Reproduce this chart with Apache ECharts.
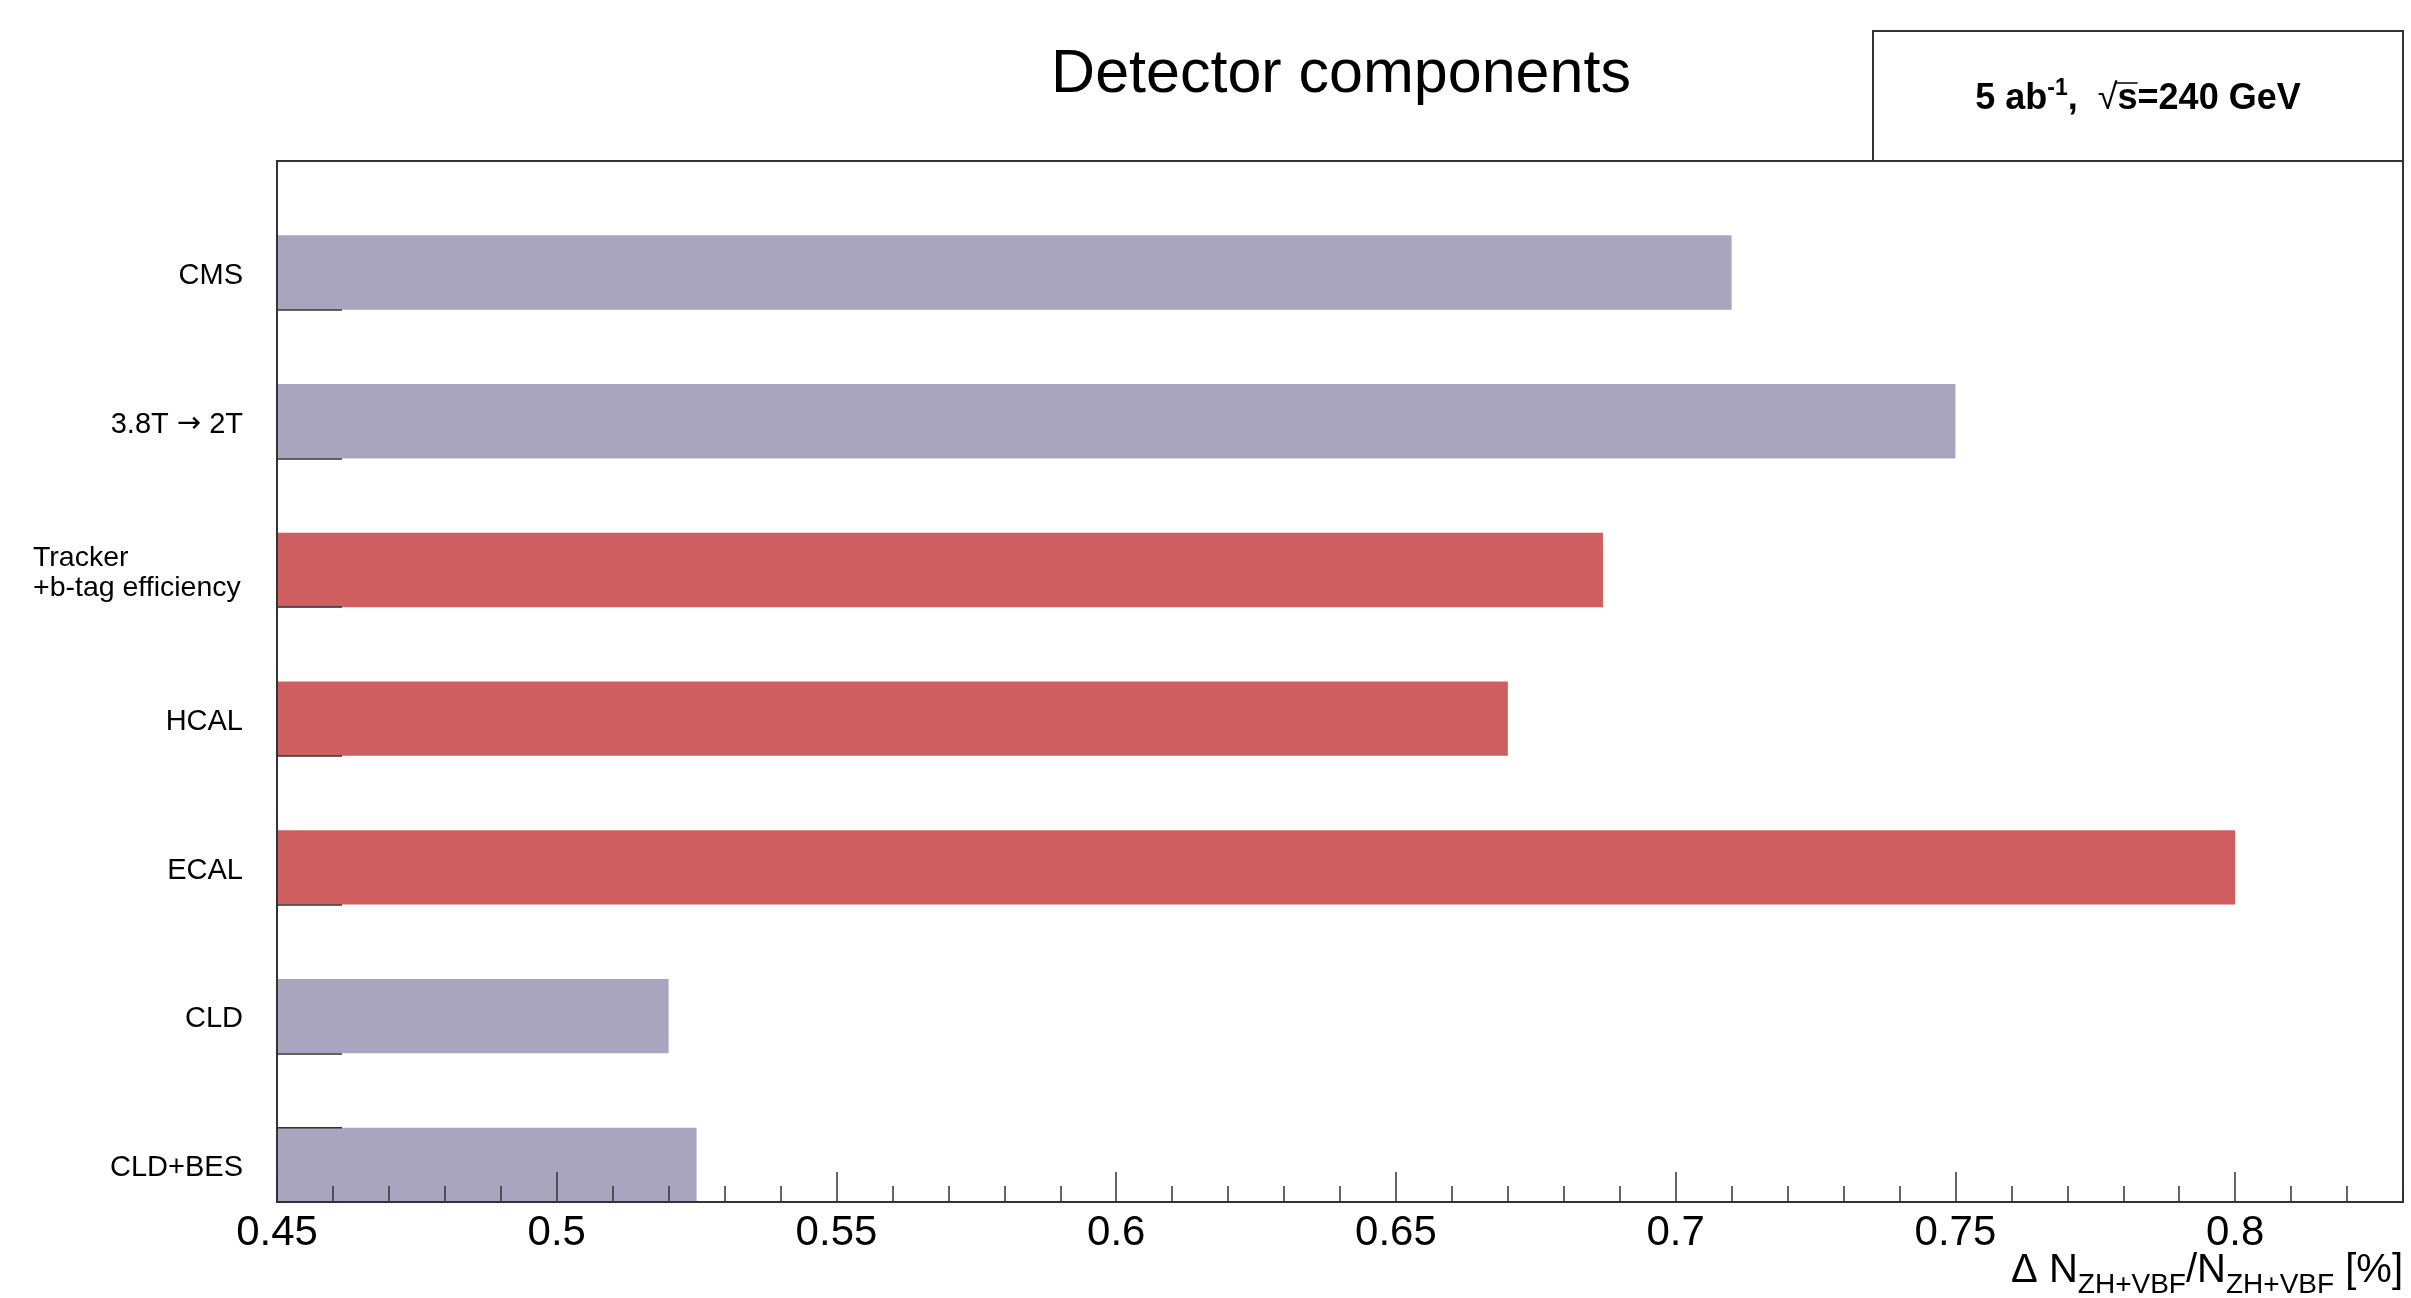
<!DOCTYPE html>
<html>
<head>
<meta charset="utf-8">
<script src="https://cdn.jsdelivr.net/npm/echarts@6/dist/echarts.min.js"></script>
<style>
  html, body { margin: 0; padding: 0; background: #ffffff; }
  #chart { width: 2411px; height: 1298px; }
</style>
</head>
<body>
<div id="chart"></div>
<script>
// Relative uncertainty on the ZH+VBF yield for each detector configuration
const categories = ['CMS', '3.8T \u2192 2T', 'Tracker\n+b-tag efficiency', 'HCAL', 'ECAL', 'CLD', 'CLD+BES'];
const resolution = [0.710, 0.750, 0.687, 0.670, 0.800, 0.520, 0.525];
// Configurations where a single detector component is varied
const componentVariations = ['Tracker\n+b-tag efficiency', 'HCAL', 'ECAL'];
const xRange = [0.45, 0.83];
const xMajorStep = 0.05;
const xMinorStep = 0.01;

const FONT = '"Liberation Sans", Arial, Helvetica, sans-serif';
const GREY = '#A9A5BF';
const RED = '#CF5E60';
const LINE = '#333333';

const chart = echarts.init(document.getElementById('chart'), null, { renderer: 'canvas' });

// Text measurement helper for the composed labels (super/subscripts)
const measureCtx = document.createElement('canvas').getContext('2d');
function textWidth(str, size, weight) {
  measureCtx.font = (weight || 'normal') + ' ' + size + 'px ' + FONT;
  return measureCtx.measureText(str).width;
}
// zrender draws with a 'middle' baseline; convert an alphabetic baseline to it
function midFromBaseline(baseline, size) { return baseline - 0.3465 * size; }

// Lay out a run of text pieces left to right starting at x
function textRun(pieces, x0, baseline) {
  const out = [];
  let x = x0;
  pieces.forEach(p => {
    const w = textWidth(p.text, p.size, p.weight);
    out.push({
      type: 'text', z: 100,
      style: {
        text: p.text, x: x, y: midFromBaseline(baseline + (p.dy || 0), p.size),
        font: (p.weight || 'normal') + ' ' + p.size + 'px ' + FONT,
        fill: '#000', textAlign: 'left', textVerticalAlign: 'middle'
      }
    });
    p._x = x; p._w = w;
    x += w;
  });
  return { items: out, width: x - x0 };
}
function runWidth(pieces) {
  return pieces.reduce((s, p) => s + textWidth(p.text, p.size, p.weight), 0);
}

// Energy / luminosity box
const boxX = 1873, boxY = 31, boxW = 530, boxH = 130;
const lumiPieces = [
  { text: '5 ab', size: 36, weight: 'bold' },
  { text: '-1', size: 23, weight: 'bold', dy: -15 },
  { text: ',  ', size: 36, weight: 'bold' },
  { text: '\u221A', size: 36, weight: 'normal' },
  { text: 's', size: 36, weight: 'bold' },
  { text: '=240 GeV', size: 36, weight: 'bold' }
];
const lumiBaseline = 112;
const lumiStart = boxX + boxW / 2 - runWidth(lumiPieces) / 2;
const lumiRun = textRun(lumiPieces, lumiStart, lumiBaseline);
const sPiece = lumiPieces[4];
const overline = {
  type: 'line', z: 100,
  shape: { x1: sPiece._x - 2, y1: lumiBaseline - 29, x2: sPiece._x + sPiece._w, y2: lumiBaseline - 29 },
  style: { stroke: '#000', lineWidth: 1.5 }
};

// Axis title: Δ N_{ZH+VBF}/N_{ZH+VBF} [%]
const axisTitlePieces = [
  { text: '\u0394 N', size: 40 },
  { text: 'ZH+VBF', size: 28, dy: 10 },
  { text: '/N', size: 40 },
  { text: 'ZH+VBF', size: 28, dy: 10 },
  { text: ' [%]', size: 40 }
];
const axisTitleRight = 2403;
const axisTitleRun = textRun(axisTitlePieces, axisTitleRight - runWidth(axisTitlePieces), 1285);

const graphics = [
  {
    type: 'text', z: 100,
    style: {
      text: 'Detector components', x: 1341, y: midFromBaseline(96, 61),
      font: 'normal 61px ' + FONT, fill: '#000', textAlign: 'center', textVerticalAlign: 'middle'
    }
  },
  {
    type: 'rect', z: 90,
    shape: { x: boxX, y: boxY, width: boxW, height: boxH },
    style: { fill: '#fff', stroke: LINE, lineWidth: 2 }
  },
  ...lumiRun.items,
  overline,
  ...axisTitleRun.items
];

const option = {
  backgroundColor: '#ffffff',
  animation: false,
  grid: {
    left: 277, right: 8, top: 161, bottom: 96,
    show: true, borderColor: LINE, borderWidth: 2, backgroundColor: 'transparent'
  },
  xAxis: [
    {
      type: 'value', position: 'bottom', min: xRange[0], max: xRange[1], interval: xMajorStep,
      z: 10,
      axisLine: { show: true, lineStyle: { color: LINE, width: 2 } },
      axisTick: { show: true, inside: true, length: 30, lineStyle: { color: LINE, width: 1.5 } },
      axisLabel: {
        show: true, fontSize: 42, fontFamily: FONT, color: '#000', margin: 10,
        showMaxLabel: false, showMinLabel: true
      },
      splitLine: { show: false }
    },
    {
      type: 'value', position: 'bottom', min: xRange[0], max: xRange[1], interval: xMinorStep,
      z: 10,
      axisLine: { show: false },
      axisTick: { show: true, inside: true, length: 16, lineStyle: { color: LINE, width: 1.5 } },
      axisLabel: { show: false },
      splitLine: { show: false }
    }
  ],
  yAxis: {
    type: 'category', data: categories, inverse: true, boundaryGap: true,
    z: 10,
    axisLine: { show: true, lineStyle: { color: LINE, width: 2 } },
    axisTick: { show: true, inside: true, length: 65, alignWithLabel: false, lineStyle: { color: LINE, width: 1.5 } },
    axisLabel: {
      fontSize: 29, fontFamily: FONT, color: '#000', margin: 34,
      padding: [81, 0, 0, 0],
      formatter: v => {
        if (v.indexOf('\n') >= 0) return v.split('\n').map(s => '{l|' + s + '}').join('\n');
        return v.replace('\u2192', '{a|\u2192}');
      },
      rich: {
        l: { fontSize: 28.5, fontFamily: FONT, color: '#000', width: 210, align: 'left', lineHeight: 30 },
        a: { fontSize: 29, fontFamily: '"DejaVu Sans", sans-serif', color: '#000' }
      }
    },
    splitLine: { show: false }
  },
  series: [
    {
      // empty slot: pushes the bars into the lower half of each category band
      type: 'bar', name: 'slot', data: categories.map(() => '-'),
      barWidth: '50%', barGap: '0%', silent: true
    },
    {
      type: 'bar', name: 'resolution', data: resolution,
      barWidth: '50%', barGap: '0%',
      itemStyle: { color: p => componentVariations.indexOf(categories[p.dataIndex]) >= 0 ? RED : GREY }
    }
  ],
  graphic: graphics
};

chart.setOption(option);

// Extra inner tick at the centre of the last category band
const lastCat = categories[categories.length - 1];
const tickY = chart.convertToPixel({ yAxisIndex: 0 }, lastCat);
const tickX0 = chart.convertToPixel({ xAxisIndex: 0 }, xRange[0]);
chart.setOption({
  graphic: graphics.concat([{
    type: 'line', z: 100,
    shape: { x1: tickX0, y1: tickY, x2: tickX0 + 65, y2: tickY },
    style: { stroke: LINE, lineWidth: 1.5 }
  }])
});
</script>
</body>
</html>
